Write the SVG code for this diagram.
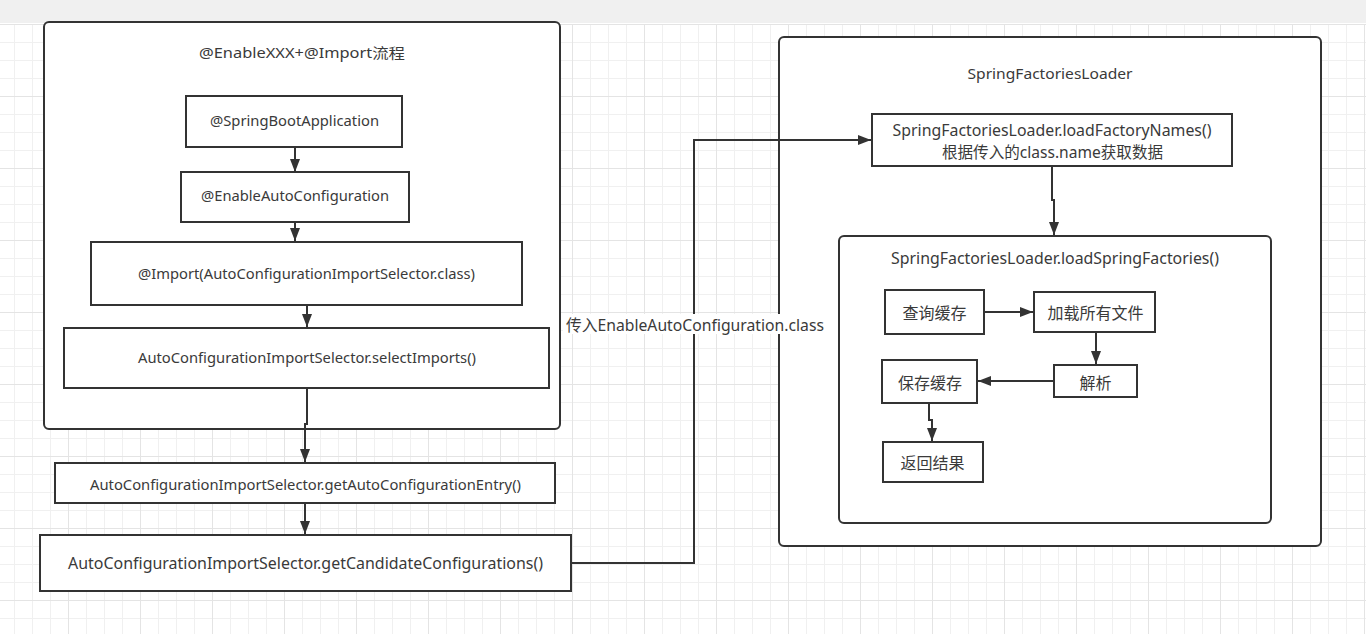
<svg xmlns="http://www.w3.org/2000/svg" width="1366" height="634" viewBox="0 0 1366 634">
<style>
text{font-family:"Noto Sans","Noto Sans CJK SC",sans-serif;fill:#3a3a3a;text-anchor:middle}
.t14{font-size:14px}
.t16{font-size:16px}
.box{fill:#fff;stroke:#333;stroke-width:2}
.cont{fill:#fff;stroke:#333;stroke-width:2}
.edge{fill:none;stroke:#333;stroke-width:2}
</style>
<defs>
<pattern id="grid" x="-4" y="24" width="72" height="72" patternUnits="userSpaceOnUse">
<rect x="0" y="0" width="72" height="72" fill="#fff"/>
<rect x="18" y="0" width="1" height="72" fill="#f0f0f0"/>
<rect x="36" y="0" width="1" height="72" fill="#f0f0f0"/>
<rect x="54" y="0" width="1" height="72" fill="#f0f0f0"/>
<rect x="0" y="18" width="72" height="1" fill="#f0f0f0"/>
<rect x="0" y="36" width="72" height="1" fill="#f0f0f0"/>
<rect x="0" y="54" width="72" height="1" fill="#f0f0f0"/>
<rect x="0" y="0" width="1" height="72" fill="#e4e4e4"/>
<rect x="0" y="0" width="72" height="1" fill="#e4e4e4"/>
</pattern>
<marker id="arr" markerUnits="userSpaceOnUse" markerWidth="14" markerHeight="12" refX="13" refY="5" orient="auto">
<path d="M0,0 L13,5 L0,10 z" fill="#333"/>
</marker>
</defs>
<rect x="0" y="0" width="1366" height="634" fill="#fff"/>
<rect x="0" y="24" width="1366" height="610" fill="url(#grid)"/>
<rect x="0" y="0" width="1366" height="23" fill="#f0f0f0"/>

<g id="left-container">
<rect class="cont" x="44" y="22" width="516" height="407" rx="5"/>
<text class="t14" x="302" y="58" textLength="206" lengthAdjust="spacingAndGlyphs">@EnableXXX+@Import流程</text>
</g>
<g id="right-container">
<rect class="cont" x="779" y="37" width="542" height="509" rx="5"/>
<text class="t14" x="1050" y="79" textLength="165" lengthAdjust="spacingAndGlyphs">SpringFactoriesLoader</text>
</g>
<g id="n-springboot">
<rect class="box" x="186" y="96" width="216" height="51"/>
<text class="t14" x="294.5" y="126" textLength="169" lengthAdjust="spacingAndGlyphs">@SpringBootApplication</text>
</g>
<g id="n-enableauto">
<rect class="box" x="181" y="172" width="228" height="50"/>
<text class="t14" x="295" y="201" textLength="188" lengthAdjust="spacingAndGlyphs">@EnableAutoConfiguration</text>
</g>
<g id="n-import">
<rect class="box" x="91" y="242" width="431" height="63"/>
<text class="t14" x="306.5" y="279" textLength="337" lengthAdjust="spacingAndGlyphs">@Import(AutoConfigurationImportSelector.class)</text>
</g>
<g id="n-selectimports">
<rect class="box" x="64" y="328" width="485" height="60"/>
<text class="t14" x="307" y="363" textLength="338" lengthAdjust="spacingAndGlyphs">AutoConfigurationImportSelector.selectImports()</text>
</g>
<g id="n-getentry">
<rect class="box" x="55" y="463" width="500" height="40"/>
<text class="t14" x="305.5" y="490" textLength="431" lengthAdjust="spacingAndGlyphs">AutoConfigurationImportSelector.getAutoConfigurationEntry()</text>
</g>
<g id="n-getcandidate">
<rect class="box" x="40" y="535" width="531" height="56"/>
<text class="t16" x="305.5" y="569" textLength="475" lengthAdjust="spacingAndGlyphs">AutoConfigurationImportSelector.getCandidateConfigurations()</text>
</g>
<g id="n-loadfactorynames">
<rect class="box" x="872" y="114" width="360" height="52"/>
<text class="t16" x="1052" y="136" textLength="319" lengthAdjust="spacingAndGlyphs">SpringFactoriesLoader.loadFactoryNames()</text>
<text class="t16" x="1052.5" y="158" textLength="221" lengthAdjust="spacingAndGlyphs">根据传入的class.name获取数据</text>
</g>
<g id="n-loadspringfactories">
<rect class="cont" x="839" y="236" width="432" height="287" rx="5"/>
<text class="t16" x="1055" y="264" textLength="328" lengthAdjust="spacingAndGlyphs">SpringFactoriesLoader.loadSpringFactories()</text>
</g>
<g id="n-query">
<rect class="box" x="885" y="290" width="99" height="44"/>
<text class="t16" x="934.5" y="319">查询缓存</text>
</g>
<g id="n-loadall">
<rect class="box" x="1034" y="292" width="121" height="40"/>
<text class="t16" x="1095.5" y="319">加载所有文件</text>
</g>
<g id="n-parse">
<rect class="box" x="1054" y="365" width="83" height="32"/>
<text class="t16" x="1095.5" y="389">解析</text>
</g>
<g id="n-save">
<rect class="box" x="882" y="360" width="95" height="43"/>
<text class="t16" x="930" y="389">保存缓存</text>
</g>
<g id="n-return">
<rect class="box" x="883" y="442" width="100" height="40"/>
<text class="t16" x="932.5" y="469">返回结果</text>
</g>

<g id="connectors">
<path class="edge" marker-end="url(#arr)" d="M295,147 V172"/>
<path class="edge" marker-end="url(#arr)" d="M295,222 V241"/>
<path class="edge" marker-end="url(#arr)" d="M307,305 V327"/>
<path class="edge" marker-end="url(#arr)" d="M307,388 V424 H305 V462"/>
<path class="edge" marker-end="url(#arr)" d="M305,503 V534"/>
<path class="edge" marker-end="url(#arr)" d="M571,563 H694 V140 H871"/>
<path class="edge" marker-end="url(#arr)" d="M1052,166 V200 H1054 V235"/>
<path class="edge" marker-end="url(#arr)" d="M984,312 H1033"/>
<path class="edge" marker-end="url(#arr)" d="M1096,332 V364"/>
<path class="edge" marker-end="url(#arr)" d="M1054,381 H978"/>
<path class="edge" marker-end="url(#arr)" d="M929,403 V420 H932 V441"/>
<rect x="563" y="314" width="262" height="20" fill="#fff"/>
<text class="t16" x="695" y="331" textLength="258" lengthAdjust="spacingAndGlyphs">传入EnableAutoConfiguration.class</text>
</g>
</svg>
